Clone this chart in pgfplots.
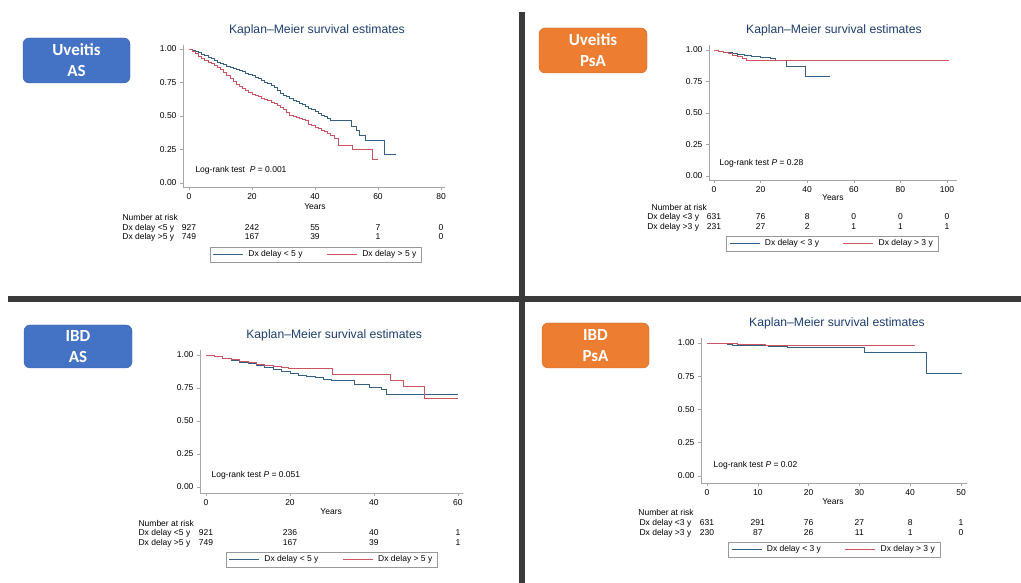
\documentclass[border=0pt]{standalone}
\usepackage{fontspec}
\setmainfont{Liberation Sans}
\newfontfamily\calibri{Carlito}
\usepackage{pgfplots}
\pgfplotsset{compat=1.18}

\definecolor{kmblue}{RGB}{52,96,132}
\definecolor{kmred}{RGB}{204,84,96}
\definecolor{ttlblue}{RGB}{30,62,110}
\definecolor{sepgray}{RGB}{58,58,58}
\definecolor{boxblue}{HTML}{4472C4}
\definecolor{boxorange}{HTML}{ED7D31}

\newcommand\sm{\fontsize{8.5}{10}\selectfont}

\pgfplotsset{
  km/.style={
    scale only axis,
    axis x line*=bottom, axis y line*=left,
    x axis line style={-}, y axis line style={-},
    axis line style={gray!70, line width=0.5pt},
    tick align=outside, major tick length=3pt,
    tick style={gray!70, line width=0.5pt},
    ytick={0,0.25,0.5,0.75,1},
    yticklabel style={/pgf/number format/.cd, fixed, fixed zerofill, precision=2},
    /pgf/number format/assume math mode=true,
    tick label style={font=\sm},
    label style={font=\sm},
    clip=false,
    title style={font=\fontsize{12.2}{14}\selectfont, color=ttlblue, anchor=center},
    legend columns=2,
    legend style={draw=gray!80, font=\sm, anchor=north, inner xsep=3pt, inner ysep=1.5pt,
      /tikz/every even column/.append style={column sep=22pt}},
    legend image code/.code={\draw[#1] (0pt,0pt) -- (30pt,0pt); \path (33pt,0pt);},
    every axis plot/.append style={const plot, line width=0.7pt, mark=none},
  }
}

\begin{document}
\begin{tikzpicture}
\fill[white] (0,0) rectangle (1021pt,583pt);
\useasboundingbox (0,0) rectangle (1021pt,583pt);

% separators
\draw[sepgray, line width=6.5pt] (522pt,571pt) -- (522pt,0pt);
\draw[sepgray, line width=6.5pt] (8pt,284pt) -- (1021pt,284pt);

% labels
\tikzset{lbl/.style={rounded corners=6pt, text=white, align=center,
  font=\calibri\bfseries\fontsize{17}{21}\selectfont}}
\node[lbl, fill=boxblue, draw=boxblue!85!black, minimum width=107pt, minimum height=45pt]
  at (76.5pt,522.5pt) {Uveitis\\AS};
\node[lbl, fill=boxorange, draw=boxorange!85!black, minimum width=108pt, minimum height=45pt]
  at (593pt,532.5pt) {Uveitis\\PsA};
\node[lbl, fill=boxblue, draw=boxblue!85!black, minimum width=108pt, minimum height=43pt]
  at (78pt,236.5pt) {IBD\\AS};
\node[lbl, fill=boxorange, draw=boxorange!85!black, minimum width=107pt, minimum height=45pt]
  at (595.5pt,237.5pt) {IBD\\PsA};

% ---- Uveitis AS
\begin{axis}[km, at={(183pt,396pt)}, anchor=south west, width=262pt, height=142pt,
  xmin=-1.9, xmax=81.27, ymin=-0.03, ymax=1.03, xtick={0,20,40,60,80},
  title={Kaplan\textendash Meier survival estimates},
  title style={at={(axis description cs:0.511,1.063)}},
  legend style={at={(axis description cs:0.506,-0.423)}}]
\addplot[kmblue] coordinates {
 (0,1.000) (1,0.992) (2,0.983) (3,0.972) (4,0.962) (5,0.952) (6,0.940) (7,0.928) (8,0.915) (9,0.903)
 (10,0.893) (11,0.884) (12,0.874) (13,0.866) (14,0.857) (15,0.848) (16,0.840) (17,0.830) (18,0.820)
 (19,0.810) (20,0.800) (21,0.790) (22,0.779) (23,0.767) (24,0.754) (25,0.742) (26,0.728) (27,0.712)
 (28,0.690) (29,0.672) (30,0.655) (31,0.643) (32,0.632) (33,0.620) (34,0.606) (35,0.595) (36,0.585)
 (37,0.572) (38,0.560) (39,0.547) (40,0.534) (41,0.520) (42,0.508) (43,0.497) (44,0.484) (45,0.470)
 (51.5,0.420) (53.1,0.396) (54.2,0.358) (56.1,0.320) (62.1,0.216) (65.8,0.216)};
\addlegendentry{Dx delay < 5 y}
\addplot[kmred] coordinates {
 (0,1.000) (1,0.985) (2,0.965) (3,0.948) (4,0.932) (5,0.918) (6,0.903) (7,0.890) (8,0.876) (9,0.862)
 (10,0.845) (11,0.825) (12,0.800) (13,0.778) (14,0.756) (15,0.738) (16,0.720) (17,0.703) (18,0.688)
 (19,0.674) (20,0.662) (21,0.652) (22,0.643) (23,0.634) (24,0.625) (25,0.615) (26,0.605) (27,0.594)
 (28,0.580) (29,0.566) (30,0.552) (31,0.530) (32,0.507) (33,0.498) (34,0.490) (35,0.482) (36,0.475)
 (37,0.468) (38,0.440) (39,0.428) (40,0.416) (41,0.405) (42,0.396) (43,0.383) (44,0.368) (45,0.352)
 (46,0.335) (47.3,0.284) (52,0.251) (58.2,0.177) (60,0.177)};
\addlegendentry{Dx delay > 5 y}
\node[font=\sm] at (axis cs:40,-0.179) {Years};
\node[font=\sm, anchor=west] at (axis cs:0.95,0.097) {Log-rank test \ \textit{P} = 0.001};
\node[font=\sm, anchor=west] at (axis cs:-22.2,-0.254) {Number at risk};
\node[font=\sm, anchor=east] at (axis cs:-3.6,-0.336) {Dx delay <5 y};
\node[font=\sm, anchor=east] at (axis cs:-3.6,-0.403) {Dx delay >5 y};
\node[font=\sm] at (axis cs:0,-0.336) {927};  \node[font=\sm] at (axis cs:0,-0.403) {749};
\node[font=\sm] at (axis cs:20,-0.336) {242}; \node[font=\sm] at (axis cs:20,-0.403) {167};
\node[font=\sm] at (axis cs:40,-0.336) {55};  \node[font=\sm] at (axis cs:40,-0.403) {39};
\node[font=\sm] at (axis cs:60,-0.336) {7};   \node[font=\sm] at (axis cs:60,-0.403) {1};
\node[font=\sm] at (axis cs:80,-0.336) {0};   \node[font=\sm] at (axis cs:80,-0.403) {0};
\end{axis}

% ---- Uveitis PsA
\begin{axis}[km, at={(709pt,403pt)}, anchor=south west, width=248pt, height=135pt,
  xmin=-2.15, xmax=104.3, ymin=-0.032, ymax=1.04, xtick={0,20,40,60,80,100},
  title={Kaplan\textendash Meier survival estimates},
  title style={at={(axis description cs:0.504,1.067)}},
  legend style={at={(axis description cs:0.496,-0.415)}}]
\addplot[kmblue] coordinates {
 (0,1.000) (2,0.993) (4,0.985) (6,0.978) (8,0.972) (10,0.966) (13,0.958) (16,0.950) (20,0.942)
 (24,0.934) (26.2,0.918) (30.9,0.873) (39,0.788) (49.8,0.788)};
\addlegendentry{Dx delay < 3 y}
\addplot[kmred] coordinates {
 (0,1.000) (2,0.990) (4,0.980) (6,0.970) (8,0.960) (10,0.948) (12,0.934) (14,0.918) (101,0.918)};
\addlegendentry{Dx delay > 3 y}
\node[font=\sm] at (axis cs:51,-0.175) {Years};
\node[font=\sm, anchor=west] at (axis cs:0.86,0.103) {Log-rank test \textit{P} = 0.28};
\node[font=\sm, anchor=west] at (axis cs:-28.3,-0.254) {Number at risk};
\node[font=\sm, anchor=east] at (axis cs:-4.9,-0.325) {Dx delay <3 y};
\node[font=\sm, anchor=east] at (axis cs:-4.9,-0.405) {Dx delay >3 y};
\node[font=\sm] at (axis cs:0,-0.325) {631};  \node[font=\sm] at (axis cs:0,-0.405) {231};
\node[font=\sm] at (axis cs:20,-0.325) {76};  \node[font=\sm] at (axis cs:20,-0.405) {27};
\node[font=\sm] at (axis cs:40,-0.325) {8};   \node[font=\sm] at (axis cs:40,-0.405) {2};
\node[font=\sm] at (axis cs:60,-0.325) {0};   \node[font=\sm] at (axis cs:60,-0.405) {1};
\node[font=\sm] at (axis cs:80,-0.325) {0};   \node[font=\sm] at (axis cs:80,-0.405) {1};
\node[font=\sm] at (axis cs:100,-0.325) {0};  \node[font=\sm] at (axis cs:100,-0.405) {1};
\end{axis}

% ---- IBD AS
\begin{axis}[km, at={(200pt,90pt)}, anchor=south west, width=263pt, height=143pt,
  xmin=-1.43, xmax=61.2, ymin=-0.045, ymax=1.038, xtick={0,20,40,60},
  title={Kaplan\textendash Meier survival estimates},
  title style={at={(axis description cs:0.51,1.063)}},
  legend style={at={(axis description cs:0.5,-0.413)}}]
\addplot[kmblue] coordinates {
 (0,1.000) (2,0.990) (4,0.978) (6,0.962) (8,0.948) (10,0.935) (12,0.920) (14,0.904) (16,0.890)
 (18,0.875) (20,0.862) (22,0.848) (24,0.838) (26,0.828) (28,0.818) (29.8,0.810) (33,0.805)
 (35.4,0.780) (39,0.755) (41.7,0.737) (42.9,0.705) (60,0.705)};
\addlegendentry{Dx delay < 5 y}
\addplot[kmred] coordinates {
 (0,1.000) (2,0.990) (4,0.978) (6,0.964) (8,0.952) (10,0.942) (12,0.930) (14,0.920) (16,0.912)
 (18,0.905) (19.5,0.900) (30.2,0.854) (44,0.810) (46.9,0.765) (52,0.672) (60,0.672)};
\addlegendentry{Dx delay > 5 y}
\node[font=\sm] at (axis cs:29.8,-0.189) {Years};
\node[font=\sm, anchor=west] at (axis cs:0.48,0.091) {Log-rank test \textit{P} = 0.051};
\node[font=\sm, anchor=west] at (axis cs:-16.9,-0.273) {Number at risk};
\node[font=\sm, anchor=east] at (axis cs:-2.9,-0.348) {Dx delay <5 y};
\node[font=\sm, anchor=east] at (axis cs:-2.9,-0.424) {Dx delay >5 y};
\node[font=\sm] at (axis cs:0,-0.348) {921};  \node[font=\sm] at (axis cs:0,-0.424) {749};
\node[font=\sm] at (axis cs:20,-0.348) {236}; \node[font=\sm] at (axis cs:20,-0.424) {167};
\node[font=\sm] at (axis cs:40,-0.348) {40};  \node[font=\sm] at (axis cs:40,-0.424) {39};
\node[font=\sm] at (axis cs:60,-0.348) {1};   \node[font=\sm] at (axis cs:60,-0.424) {1};
\end{axis}

% ---- IBD PsA
\begin{axis}[km, at={(701pt,100pt)}, anchor=south west, width=266pt, height=145pt,
  xmin=-1.18, xmax=51.18, ymin=-0.053, ymax=1.038, xtick={0,10,20,30,40,50},
  title={Kaplan\textendash Meier survival estimates},
  title style={at={(axis description cs:0.511,1.062)}},
  legend style={at={(axis description cs:0.5,-0.407)}}]
\addplot[kmblue] coordinates {
 (0,1.000) (2,0.995) (4,0.988) (5,0.985) (7.4,0.980) (12,0.975) (15.9,0.970) (31,0.930)
 (43.2,0.772) (50.1,0.772)};
\addlegendentry{Dx delay < 3 y}
\addplot[kmred] coordinates {
 (0,1.000) (3,0.997) (6,0.992) (9,0.988) (11.4,0.985) (40.9,0.985)};
\addlegendentry{Dx delay > 3 y}
\node[font=\sm] at (axis cs:24.8,-0.195) {Years};
\node[font=\sm, anchor=west] at (axis cs:0.6,0.083) {Log-rank test \textit{P} = 0.02};
\node[font=\sm, anchor=west] at (axis cs:-14.2,-0.271) {Number at risk};
\node[font=\sm, anchor=east] at (axis cs:-2.4,-0.353) {Dx delay <3 y};
\node[font=\sm, anchor=east] at (axis cs:-2.4,-0.429) {Dx delay >3 y};
\node[font=\sm] at (axis cs:0,-0.353) {631};  \node[font=\sm] at (axis cs:0,-0.429) {230};
\node[font=\sm] at (axis cs:10,-0.353) {291}; \node[font=\sm] at (axis cs:10,-0.429) {87};
\node[font=\sm] at (axis cs:20,-0.353) {76};  \node[font=\sm] at (axis cs:20,-0.429) {26};
\node[font=\sm] at (axis cs:30,-0.353) {27};  \node[font=\sm] at (axis cs:30,-0.429) {11};
\node[font=\sm] at (axis cs:40,-0.353) {8};   \node[font=\sm] at (axis cs:40,-0.429) {1};
\node[font=\sm] at (axis cs:50,-0.353) {1};   \node[font=\sm] at (axis cs:50,-0.429) {0};
\end{axis}
\end{tikzpicture}
\end{document}
